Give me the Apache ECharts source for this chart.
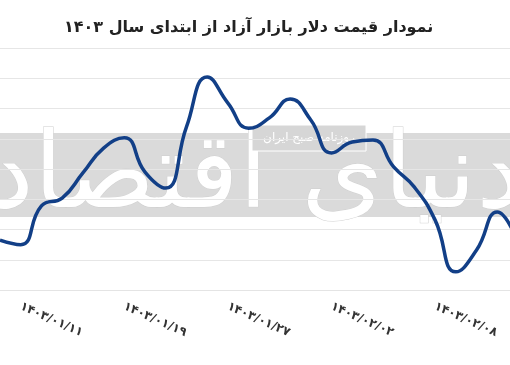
<!DOCTYPE html>
<html><head><meta charset="utf-8">
<script src="https://cdn.jsdelivr.net/npm/echarts@6/dist/echarts.min.js"></script>
<style>html,body{margin:0;padding:0;background:#fff;overflow:hidden;width:510px;height:365px}#c{width:518px;height:365px}</style>
</head><body><div id="c"></div>
<script>
const titleText = 'نمودار قیمت دلار بازار آزاد از ابتدای سال ۱۴۰۳';
const watermarkText = 'دنیای اقتصاد';
const watermarkSub = 'روزنامه صبح ایران';
const dates = ['۱۴۰۳/۰۱/۰۹','۱۴۰۳/۰۱/۱۱','۱۴۰۳/۰۱/۱۴','۱۴۰۳/۰۱/۱۵','۱۴۰۳/۰۱/۱۶','۱۴۰۳/۰۱/۱۸',
  '۱۴۰۳/۰۱/۱۹','۱۴۰۳/۰۱/۲۰','۱۴۰۳/۰۱/۲۱','۱۴۰۳/۰۱/۲۵','۱۴۰۳/۰۱/۲۶','۱۴۰۳/۰۱/۲۷','۱۴۰۳/۰۱/۲۸',
  '۱۴۰۳/۰۱/۲۹','۱۴۰۳/۰۱/۳۰','۱۴۰۳/۰۲/۰۱','۱۴۰۳/۰۲/۰۲','۱۴۰۳/۰۲/۰۳','۱۴۰۳/۰۲/۰۴','۱۴۰۳/۰۲/۰۵',
  '۱۴۰۳/۰۲/۰۶','۱۴۰۳/۰۲/۰۸','۱۴۰۳/۰۲/۰۹','۱۴۰۳/۰۲/۱۰','۱۴۰۳/۰۲/۱۱','۱۴۰۳/۰۲/۱۲'];
const prices = [61650, 61500, 62780, 63040, 63870, 64690, 65030, 63900, 63370, 65390, 67040, 66180, 65350,
  65690, 66310, 65620, 64530, 64890, 64960, 64070, 63400, 62310, 60600, 61320, 62580, 61550];
const yMin = 60000, yMax = 68000, yStep = 1000;
const labelEvery = 5, labelOffset = 1;

const chart = echarts.init(document.getElementById('c'), null, {renderer: 'canvas'});
chart.setOption({
  backgroundColor: '#ffffff',
  animation: false,
  title: {
    text: titleText, left: 59, top: 15,
    textStyle: {fontFamily: 'DejaVu Sans', fontWeight: 'bold', fontSize: 16, color: '#222'}
  },
  graphic: [
    {type: 'rect', z: -10, shape: {x: 0, y: 133, width: 518, height: 84}, style: {fill: '#dadada'}},
    {type: 'text', z: -9, x: 255, y: 180, style: {text: watermarkText, align: 'center', verticalAlign: 'middle',
      fontFamily: 'DejaVu Sans', fontSize: 105, fill: '#ffffff', stroke: '#d0d0d0', lineWidth: 1}},
    {type: 'rect', z: -8, shape: {x: 252, y: 125, width: 114, height: 26}, style: {fill: '#d6d6d6', stroke: '#ffffff', lineWidth: 1}},
    {type: 'text', z: -7, x: 309, y: 138, style: {text: watermarkSub, align: 'center', verticalAlign: 'middle',
      fontFamily: 'DejaVu Sans', fontSize: 12, fill: '#ffffff'}}
  ],
  grid: {left: 0, right: 0, top: 48, bottom: 75, containLabel: false},
  xAxis: {
    type: 'category', data: dates, boundaryGap: false,
    axisLine: {show: true, lineStyle: {color: '#e4e4e4'}},
    axisTick: {show: false},
    axisLabel: {
      interval: (i) => i % labelEvery === labelOffset,
      rotate: -24, margin: 16, color: '#333', fontFamily: 'DejaVu Sans', fontWeight: 'bold', fontSize: 12
    },
    splitLine: {show: false}
  },
  yAxis: {
    type: 'value', min: yMin, max: yMax, interval: yStep,
    axisLabel: {show: false}, axisLine: {show: false}, axisTick: {show: false},
    splitLine: {lineStyle: {color: '#e6e6e6', width: 1}}
  },
  series: [{
    type: 'line', data: prices, smooth: true, symbol: 'none',
    lineStyle: {color: '#123f87', width: 3.5}, z: 5
  }]
});
</script></body></html>
